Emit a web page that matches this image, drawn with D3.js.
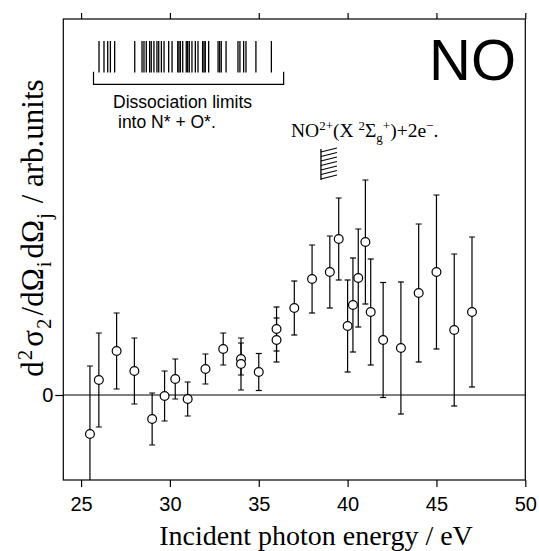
<!DOCTYPE html>
<html>
<head>
<meta charset="utf-8">
<script src="https://cdn.jsdelivr.net/npm/d3@7"></script>
<style>
body { margin: 0; background: #fff; }
</style>
</head>
<body>
<div id="chart"></div>
<script>
// measured points (photon energy / eV, signal in arb. units, error bar half-length)
const energy = [25.5, 26.0, 27.0, 28.0, 29.0, 29.7, 30.3, 31.0, 32.0, 33.0,
                34.0, 34.0, 35.0, 36.0, 36.0, 37.0, 38.0, 39.0, 39.5, 40.0,
                40.3, 40.6, 41.0, 41.3, 42.0, 43.0, 44.0, 45.0, 46.0, 47.0];
const signal = [-0.39, 0.15, 0.44, 0.24, -0.24, -0.01, 0.16, -0.04, 0.26, 0.46,
                0.36, 0.31, 0.23, 0.66, 0.55, 0.87, 1.16, 1.23, 1.56, 0.69,
                0.90, 1.17, 1.53, 0.83, 0.55, 0.47, 1.02, 1.23, 0.65, 0.83];
const error = [0.68, 0.47, 0.38, 0.33, 0.26, 0.25, 0.20, 0.17, 0.15, 0.16,
               0.16, 0.26, 0.185, 0.22, 0.22, 0.27, 0.34, 0.36, 0.41, 0.46,
               0.47, 0.49, 0.62, 0.53, 0.575, 0.66, 0.69, 0.77, 0.76, 0.75];

// dissociation limits into N* + O* (eV)
const dissocLimits = [26.01, 26.29, 26.50, 26.65, 26.89, 28.02, 28.43, 28.54, 28.67, 28.86,
                      28.95, 29.10, 29.27, 29.37, 29.52, 29.67, 29.93, 30.12, 30.44, 30.51,
                      30.59, 30.72, 30.92, 31.00, 31.09, 31.24, 31.43, 31.58, 31.84, 31.92,
                      31.99, 32.18, 32.71, 32.80, 32.89, 33.16, 33.83, 33.94, 34.15, 34.28,
                      34.84, 35.71];
const bracketRange = [25.7, 36.4];
const no2Limit = 38.5;

const majorTicks = [25, 30, 35, 40, 45, 50];
const minorTicks = d3.range(24, 51);

const W = 539, H = 551;
const x = d3.scaleLinear().domain([24, 50]).range([63.3, 525.3]);
const y = d3.scaleLinear().domain([-0.85, 3.76]).range([480, 19]);

const svg = d3.select("#chart").append("svg")
    .attr("width", W)
    .attr("height", H);

const serif = "'Liberation Serif', 'Times New Roman', serif";
const sans = "'Liberation Sans', Arial, sans-serif";

// frame
svg.append("rect")
    .attr("x", x(24)).attr("y", y(3.76))
    .attr("width", x(50) - x(24)).attr("height", y(-0.85) - y(3.76))
    .attr("fill", "none").attr("stroke", "#000").attr("stroke-width", 1.2);

// bottom axis
const gBottom = svg.append("g").attr("transform", `translate(0,${y(-0.85)})`);
gBottom.call(d3.axisBottom(x).tickValues(minorTicks).tickSize(4).tickFormat("").tickSizeOuter(0));
gBottom.call(d3.axisBottom(x).tickValues(majorTicks).tickSize(7).tickPadding(10)
    .tickFormat(d3.format("d")).tickSizeOuter(0));

// top axis
const gTop = svg.append("g").attr("transform", `translate(0,${y(3.76)})`);
gTop.call(d3.axisTop(x).tickValues(minorTicks).tickSize(4).tickFormat("").tickSizeOuter(0));
gTop.call(d3.axisTop(x).tickValues(majorTicks).tickSize(6).tickFormat("").tickSizeOuter(0));

// left axis, only zero
const gLeft = svg.append("g").attr("transform", `translate(${x(24)},0)`);
gLeft.call(d3.axisLeft(y).tickValues([0]).tickSize(8).tickPadding(2).tickFormat(d3.format("d")));

svg.selectAll(".domain").remove();
svg.selectAll(".tick line").attr("stroke", "#000").attr("stroke-width", 1.2);
svg.selectAll(".tick text")
    .attr("font-family", sans)
    .attr("font-size", 20)
    .attr("fill", "#000");

// zero line
svg.append("line")
    .attr("x1", x(24)).attr("x2", x(50))
    .attr("y1", y(0)).attr("y2", y(0))
    .attr("stroke", "#000").attr("stroke-width", 1);

// clip for the error bars
svg.append("clipPath").attr("id", "plotclip")
    .append("rect")
    .attr("x", x(24)).attr("y", y(3.76))
    .attr("width", x(50) - x(24)).attr("height", y(-0.85) - y(3.76));

const pts = energy.map((e, i) => ({e: e, v: signal[i], err: error[i]}));

const bars = svg.append("g").attr("clip-path", "url(#plotclip)")
    .attr("stroke", "#000").attr("stroke-width", 1.2);

bars.selectAll(".eb").data(pts).enter().append("line")
    .attr("x1", d => x(d.e)).attr("x2", d => x(d.e))
    .attr("y1", d => y(d.v + d.err)).attr("y2", d => y(d.v - d.err));

bars.selectAll(".capTop").data(pts).enter().append("line")
    .attr("x1", d => x(d.e) - 3).attr("x2", d => x(d.e) + 3)
    .attr("y1", d => y(d.v + d.err)).attr("y2", d => y(d.v + d.err));

bars.selectAll(".capBot").data(pts).enter().append("line")
    .attr("x1", d => x(d.e) - 3).attr("x2", d => x(d.e) + 3)
    .attr("y1", d => y(d.v - d.err)).attr("y2", d => y(d.v - d.err));

svg.selectAll("circle").data(pts).enter().append("circle")
    .attr("cx", d => x(d.e))
    .attr("cy", d => y(d.v))
    .attr("r", 4.4)
    .attr("fill", "#fff")
    .attr("stroke", "#000")
    .attr("stroke-width", 1.2);

// dissociation limits bar code
svg.append("g").selectAll("line").data(dissocLimits).enter().append("line")
    .attr("x1", d => x(d)).attr("x2", d => x(d))
    .attr("y1", 41).attr("y2", 72.5)
    .attr("stroke", "#000").attr("stroke-width", 1.3);

svg.append("path")
    .attr("d", `M${x(bracketRange[0])},71.7V84.3H${x(bracketRange[1])}V71.7`)
    .attr("fill", "none").attr("stroke", "#000").attr("stroke-width", 1.2);

svg.append("text")
    .attr("x", 113).attr("y", 108)
    .attr("font-family", sans).attr("font-size", 17.5)
    .text("Dissociation limits");
svg.append("text")
    .attr("x", 118).attr("y", 128)
    .attr("font-family", sans).attr("font-size", 17.5)
    .text("into N* + O*.");

// NO2+ limit with hatching
const hx = x(no2Limit);
svg.append("line")
    .attr("x1", hx).attr("x2", hx).attr("y1", 149).attr("y2", 180)
    .attr("stroke", "#000").attr("stroke-width", 1.3);
const hatch = [152, 156.5, 161, 165.5, 170, 174.5, 179];
svg.append("g").selectAll("line").data(hatch).enter().append("line")
    .attr("x1", hx).attr("x2", hx + 16)
    .attr("y1", d => d).attr("y2", d => d - 4)
    .attr("stroke", "#000").attr("stroke-width", 1.1);

const lab = svg.append("text")
    .attr("x", 291).attr("y", 137)
    .attr("font-family", serif).attr("font-size", 19.5);
lab.append("tspan").text("NO");
lab.append("tspan").attr("dy", -7).attr("font-size", 13).text("2+");
lab.append("tspan").attr("dy", 7).text("(X ");
lab.append("tspan").attr("dy", -7).attr("font-size", 13).text("2");
lab.append("tspan").attr("dy", 7).text("Σ");
lab.append("tspan").attr("dy", 5).attr("font-size", 13).text("g");
lab.append("tspan").attr("dy", -12).attr("font-size", 13).text("+");
lab.append("tspan").attr("dy", 7).text(")+2e");
lab.append("tspan").attr("dy", -7).attr("font-size", 13).text("−");
lab.append("tspan").attr("dy", 7).text(".");

// big molecule label
svg.append("text")
    .attr("x", 516).attr("y", 80)
    .attr("text-anchor", "end")
    .attr("font-family", sans).attr("font-size", 58)
    .text("NO");

// axis titles
svg.append("text")
    .attr("x", 316).attr("y", 545)
    .attr("text-anchor", "middle")
    .attr("font-family", serif).attr("font-size", 28)
    .text("Incident photon energy / eV");

const yl = svg.append("text")
    .attr("transform", "translate(43,228) rotate(-90)")
    .attr("text-anchor", "middle")
    .attr("font-family", serif).attr("font-size", 31);
yl.append("tspan").text("d");
yl.append("tspan").attr("dy", -11).attr("dx", 1).attr("font-size", 21).text("2");
yl.append("tspan").attr("dy", 11).attr("dx", 3).text("σ");
yl.append("tspan").attr("dy", 8).attr("dx", 1).attr("font-size", 21).text("2");
yl.append("tspan").attr("dy", -8).attr("dx", 3).text("/dΩ");
yl.append("tspan").attr("dy", 8).attr("dx", 1).attr("font-size", 21).text("i");
yl.append("tspan").attr("dy", -8).attr("dx", 3).text("dΩ");
yl.append("tspan").attr("dy", 8).attr("dx", 1).attr("font-size", 21).text("j");
yl.append("tspan").attr("dy", -8).attr("dx", 2).text(" / arb.units");
</script>
</body>
</html>
